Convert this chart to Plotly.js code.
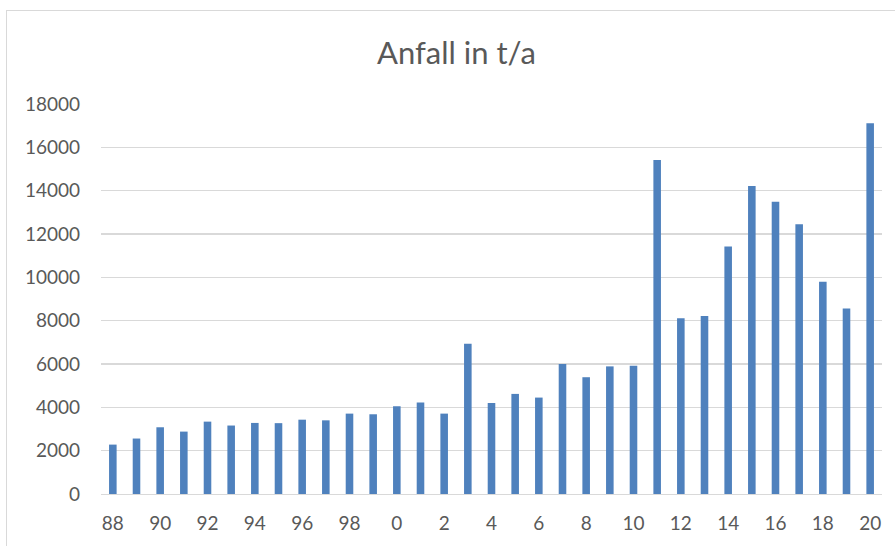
<!DOCTYPE html>
<html>
<head>
<meta charset="utf-8">
<script src="https://cdn.plot.ly/plotly-3.0.1.min.js"></script>
<style>
html,body{margin:0;padding:0;background:#fff;}
#wrap{position:relative;width:895px;height:546px;overflow:hidden;}
#chart{position:absolute;left:0;top:0;width:895px;height:546px;}
#frame{position:absolute;left:6px;top:10px;width:900px;height:560px;border:1px solid #d9d9d9;pointer-events:none;}
</style>
</head>
<body>
<div id="wrap"><div id="chart"></div><div id="frame"></div></div>
<script>
const categories = ["88","89","90","91","92","93","94","95","96","97","98","99","0","1","2","3","4","5","6","7","8","9","10","11","12","13","14","15","16","17","18","19","20"];
const values = [2280,2560,3080,2880,3340,3160,3280,3270,3430,3400,3710,3680,4050,4220,3710,6940,4200,4620,4450,6000,5390,5890,5920,15410,8110,8210,11420,14210,13490,12450,9800,8560,17110];
const tickLabels = ["88","90","92","94","96","98","0","2","4","6","8","10","12","14","16","18","20"];
const yTicks = [0,2000,4000,6000,8000,10000,12000,14000,16000,18000];

const font = "Lato, 'Open Sans', sans-serif";
Plotly.newPlot('chart', [{
  type: 'bar',
  x: categories,
  y: values,
  marker: {color: '#4f81bd', line: {width: 0}},
  hoverinfo: 'x+y'
}], {
  width: 895, height: 546,
  paper_bgcolor: '#ffffff', plot_bgcolor: '#ffffff',
  margin: {l: 101, r: 13, t: 104, b: 52, pad: 0},
  bargap: 0.68,
  showlegend: false,
  title: {text: 'Anfall in t/a', font: {family: font, size: 31, color: '#595959'}, x: 0.51, xanchor: 'center', y: 0.903, yanchor: 'middle'},
  xaxis: {
    type: 'category',
    tickvals: tickLabels, ticktext: tickLabels,
    showgrid: false, ticks: '', showline: true, linecolor: '#d9d9d9', linewidth: 1,
    tickfont: {family: font, size: 19, color: '#595959'},
    ticklabelstandoff: 12
  },
  yaxis: {
    range: [0, 18000], tickvals: yTicks, tickformat: 'd',
    showgrid: true, gridcolor: '#d9d9d9', gridwidth: 1.3,
    zeroline: false, showline: false, ticks: '',
    tickfont: {family: font, size: 19, color: '#595959'},
    ticklabelstandoff: 20
  }
}, {displayModeBar: false, staticPlot: true});
</script>
</body>
</html>
